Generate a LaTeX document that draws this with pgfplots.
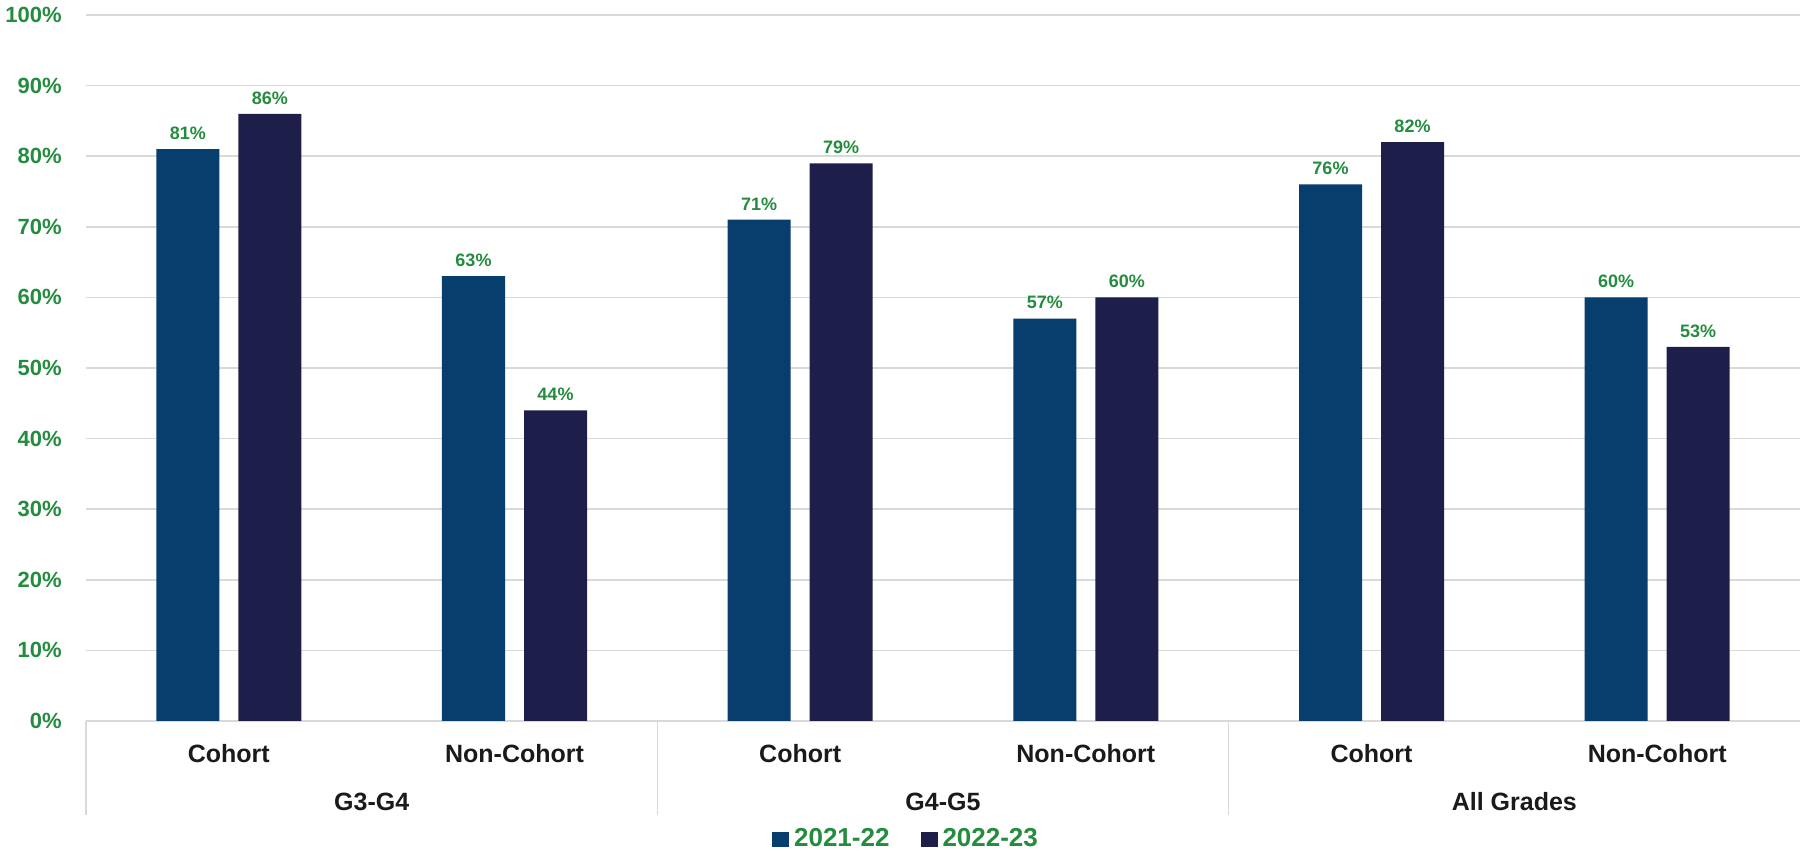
\documentclass[border=0pt]{standalone}
\usepackage{pgfplots}
\pgfplotsset{compat=1.18}
\usepackage{fontspec}
\setmainfont{Liberation Sans}

\definecolor{barA}{RGB}{8,62,110}
\definecolor{barB}{RGB}{29,30,74}
\definecolor{lblgreen}{RGB}{36,140,62}
\definecolor{gridgray}{RGB}{217,217,217}
\definecolor{cattext}{RGB}{26,26,26}

\begin{document}
\begin{tikzpicture}
\begin{axis}[
  at={(0,0)}, anchor=south west,
  scale only axis, width=857pt, height=353pt,
  xmin=-0.5, xmax=5.5, ymin=0, ymax=100,
  ybar, bar width=31.5pt,
  axis line style={draw=none},
  major tick length=0pt,
  ytick={0,10,...,100},
  yticklabel={\pgfmathprintnumber{\tick}\%},
  yticklabel style={font=\fontsize{11}{13}\selectfont\bfseries, text=lblgreen,
    anchor=east, inner sep=0pt, xshift=-12pt},
  /pgf/number format/assume math mode=true,
  ymajorgrids, grid style={gridgray, line width=0.8pt},
  xtick={0,...,5},
  xticklabels={Cohort, Non-Cohort, Cohort, Non-Cohort, Cohort, Non-Cohort},
  xticklabel style={font=\fontsize{12.5}{14}\selectfont\bfseries, text=cattext,
    anchor=center, inner sep=0pt, yshift=-16.5pt},
  nodes near coords={\pgfmathprintnumber{\pgfplotspointmeta}\%},
  nodes near coords style={font=\fontsize{9}{10}\selectfont\bfseries, text=lblgreen,
    anchor=south, inner sep=0pt, yshift=4.5pt},
  legend style={at={(axis description cs:0.4793,0)}, anchor=center, yshift=-59pt,
    draw=none, fill=none, legend columns=2,
    font=\fontsize{13}{15}\selectfont\bfseries, text=lblgreen,
    nodes={inner xsep=2.5pt},
    /tikz/every even column/.append style={column sep=13pt}},
  legend image code/.code={\fill[#1] (-2pt,-3.75pt) rectangle (6.5pt,3.75pt);},
  clip=false,
]
% 2021-22
\addplot[fill=barA, draw=none, bar shift=-20.5pt] coordinates {
  (0,81) (1,63) (2,71) (3,57) (4,76) (5,60)};
% 2022-23
\addplot[fill=barB, draw=none, bar shift=20.5pt] coordinates {
  (0,86) (1,44) (2,79) (3,60) (4,82) (5,53)};
\legend{2021-22, 2022-23}

% group separators below the baseline
\draw[gridgray, line width=0.8pt] (axis cs:-0.5,0) -- ([yshift=-47pt]axis cs:-0.5,0);
\draw[gridgray, line width=0.8pt] (axis cs:1.5,0) -- ([yshift=-47pt]axis cs:1.5,0);
\draw[gridgray, line width=0.8pt] (axis cs:3.5,0) -- ([yshift=-47pt]axis cs:3.5,0);
% group labels
\node[font=\fontsize{12.5}{14}\selectfont\bfseries, text=cattext, inner sep=0pt]
  at ([yshift=-40.5pt]axis cs:0.5,0) {G3-G4};
\node[font=\fontsize{12.5}{14}\selectfont\bfseries, text=cattext, inner sep=0pt]
  at ([yshift=-40.5pt]axis cs:2.5,0) {G4-G5};
\node[font=\fontsize{12.5}{14}\selectfont\bfseries, text=cattext, inner sep=0pt]
  at ([yshift=-40.5pt]axis cs:4.5,0) {All Grades};
\end{axis}
\pgfresetboundingbox
\path[use as bounding box] (-43pt,-65pt) rectangle (857pt,360.5pt);
\end{tikzpicture}
\end{document}
